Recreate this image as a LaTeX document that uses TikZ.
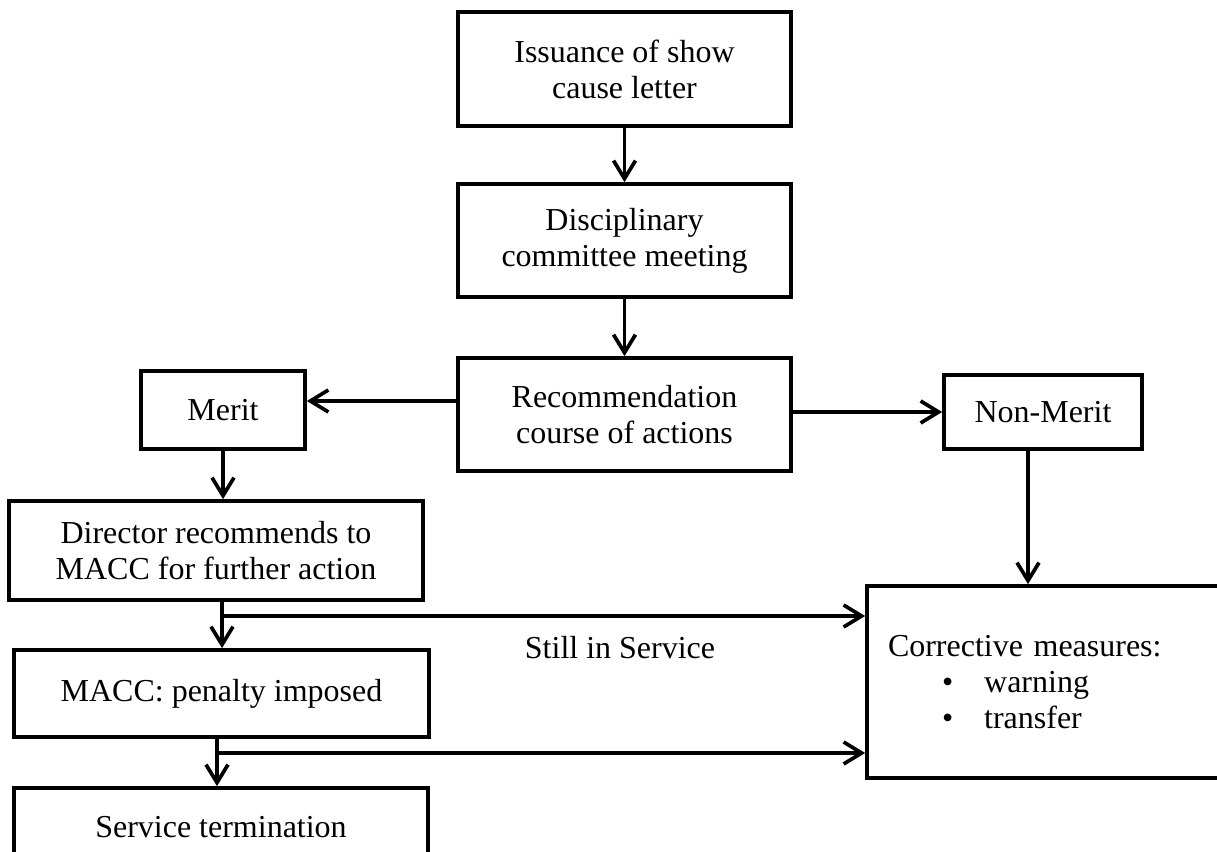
\documentclass[tikz,border=0pt]{standalone}
\usepackage{fontspec}
\setmainfont{Liberation Serif}
\usetikzlibrary{arrows.meta}
\begin{document}
\begin{tikzpicture}[
    box/.style={draw,line width=2.1pt,align=center,inner sep=0pt,font=\fontsize{18.2}{20.5}\selectfont},
    arr/.style={line width=2.1pt,-{Straight Barb[length=0.36cm,width=0.44cm]}}]
    \useasboundingbox (0,0) rectangle (24.34,-17.04);
    \node[box,minimum width=6.66cm,minimum height=2.28cm] (issue) at (12.49,-1.38) {Issuance of show\\cause letter};
    \node[box,minimum width=6.66cm,minimum height=2.26cm] (disc) at (12.49,-4.81) {Disciplinary\\committee meeting};
    \node[box,minimum width=6.66cm,minimum height=2.26cm] (recom) at (12.49,-8.29) {Recommendation\\course of actions};
    \node[box,minimum width=3.28cm,minimum height=1.56cm] (merit) at (4.46,-8.20) {Merit};
    \node[box,minimum width=3.96cm,minimum height=1.48cm] (nonmerit) at (20.86,-8.24) {Non-Merit};
    \node[box,minimum width=8.28cm,minimum height=1.98cm] (director) at (4.32,-11.01) {Director recommends to\\MACC for further action};
    \node[box,minimum width=8.30cm,minimum height=1.74cm] (macc) at (4.43,-13.87) {MACC: penalty imposed};
    \node[box,minimum width=8.28cm,minimum height=1.56cm] (term) at (4.42,-16.54) {Service termination};
    \node[box,draw=none] (still) at (12.4,-12.96) {Still in Service};
    \node[box,align=left,minimum width=7.46cm,minimum height=3.84cm,text width=6.62cm,inner xsep=0.42cm] (corr) at (21.07,-13.64)
        {Corrective measures:\\\hspace*{1.08cm}\textbullet\hspace{0.62cm}warning\\\hspace*{1.08cm}\textbullet\hspace{0.62cm}transfer};
    \coordinate (j1) at (4.44,-12.32);
    \coordinate (j2) at (4.34,-15.06);
    \draw[arr] (issue) -- (disc);
    \draw[arr] (disc) -- (recom);
    \draw[arr] ([yshift=0.18cm]merit.east -| recom.west) -- ([yshift=0.18cm]merit.east);
    \draw[arr] (recom.east |- nonmerit.west) -- (nonmerit.west);
    \draw[arr] (merit.south) -- (merit.south |- director.north);
    \draw[arr] (director.south -| j1) -- (macc.north -| j1);
    \draw[arr] (j1) -- (j1 -| corr.west);
    \draw[arr] (macc.south -| j2) -- (term.north -| j2);
    \draw[arr] (j2) -- (j2 -| corr.west);
    \draw[arr] ([xshift=-0.3cm]nonmerit.south) -- ([xshift=-0.3cm]nonmerit.south |- corr.north);
\end{tikzpicture}
\end{document}
